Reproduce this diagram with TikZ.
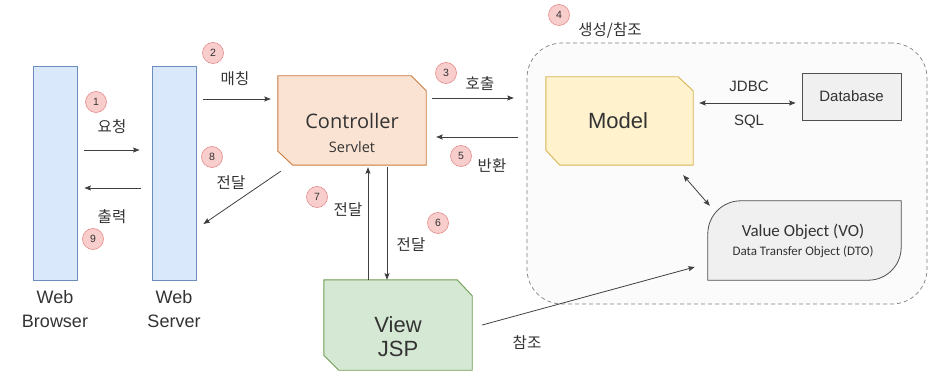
\documentclass[tikz,border=0pt]{standalone}
\usepackage{fontspec}
\setmainfont{Liberation Sans}
\newfontfamily\krfont{Noto Sans CJK KR}
\newfontfamily\vofont{Carlito}
\newfontfamily\osfont{Open Sans}
\usetikzlibrary{arrows.meta}
\definecolor{txt}{HTML}{333333}
\definecolor{arrcol}{HTML}{404040}
\definecolor{barfill}{HTML}{DAE8FC}
\definecolor{barline}{HTML}{6C8EBF}
\definecolor{numfill}{HTML}{F8CECC}
\definecolor{numline}{HTML}{E58A8A}
\definecolor{ctrlfill}{HTML}{FBE3D4}
\definecolor{ctrlline}{HTML}{CB7A3E}
\definecolor{jspfill}{HTML}{D5E8D4}
\definecolor{jspline}{HTML}{6E9E52}
\definecolor{modfill}{HTML}{FFF2CC}
\definecolor{modline}{HTML}{D6B656}
\definecolor{grayfill}{HTML}{F0F0F0}
\definecolor{grayline}{HTML}{505050}
\definecolor{contfill}{HTML}{FBFBFB}
\definecolor{contline}{HTML}{808080}
\begin{document}
\begin{tikzpicture}[x=1pt,y=-1pt,
  bar/.style={draw=barline, fill=barfill, line width=0.8pt, minimum width=44pt, minimum height=214pt, inner sep=0pt},
  num/.style={circle, draw=numline, fill=numfill, line width=0.6pt, minimum size=21pt, inner sep=0pt, text=txt, font=\fontsize{10.5}{12}\selectfont},
  lbl/.style={inner sep=0pt, text=txt, font=\krfont\fontsize{15.5}{17}\selectfont},
  word/.style={inner sep=0pt, text=txt},
  holder/.style={inner sep=0pt, draw=none},
  arr/.style={draw=arrcol, line width=0.8pt, -{Stealth[length=6.5pt,width=5pt,inset=1pt]}},
  darr/.style={draw=arrcol, line width=0.8pt, {Stealth[length=6.5pt,width=5pt,inset=1pt]}-{Stealth[length=6.5pt,width=5pt,inset=1pt]}}
]
\useasboundingbox (0,0) rectangle (931,374);

% container
\node[draw=contline, fill=contfill, dash pattern=on 4pt off 3pt, line width=0.7pt, rounded corners=35pt,
      minimum width=400pt, minimum height=261pt, inner sep=0pt] (mvc) at (727,173.5) {};

% web bars
\node[bar] (browser) at (55,173) {};
\node[bar] (server) at (174,173) {};
\node[word, align=center, font=\fontsize{18}{24}\selectfont] (browsertxt) at (55,309) {Web\\Browser};
\node[word, align=center, font=\fontsize{18}{24}\selectfont] (servertxt) at (174,309) {Web\\Server};

% controller
\node[holder, minimum width=148pt, minimum height=89pt] (ctrl) at (352,120.5) {};
\path[fill=ctrlfill, draw=ctrlline, line width=0.9pt]
  (ctrl.north west) -- ([xshift=-15pt]ctrl.north east) -- ([yshift=-15pt]ctrl.north east)
  -- (ctrl.south east) -- ([xshift=15pt]ctrl.south west) -- ([yshift=14pt]ctrl.south west) -- cycle;
\node[word, font=\osfont\fontsize{20}{24}\selectfont] (ctrltxt) at (352,121) {Controller};
\node[word, font=\osfont\fontsize{14.5}{18}\selectfont] (servlettxt) at (352,147) {Servlet};

% view
\node[holder, minimum width=148pt, minimum height=90pt] (jsp) at (398,325) {};
\path[fill=jspfill, draw=jspline, line width=0.9pt]
  (jsp.north west) -- ([xshift=-15pt]jsp.north east) -- ([yshift=-16pt]jsp.north east)
  -- (jsp.south east) -- ([xshift=15pt]jsp.south west) -- ([yshift=15pt]jsp.south west) -- cycle;
\node[word, align=center, font=\fontsize{22}{24}\selectfont] (jsptxt) at (398,337) {View\\JSP};

% model
\node[holder, minimum width=147pt, minimum height=88pt] (model) at (619.5,121) {};
\path[fill=modfill, draw=modline, line width=0.9pt]
  (model.north west) -- ([xshift=-15pt]model.north east) -- ([yshift=-14pt]model.north east)
  -- (model.south east) -- ([xshift=14pt]model.south west) -- ([yshift=15pt]model.south west) -- cycle;
\node[word, font=\fontsize{22}{24}\selectfont] (modeltxt) at (618,121) {Model};

% database
\node[draw=grayline, fill=grayfill, line width=0.8pt, minimum width=99pt, minimum height=47pt, inner sep=0pt,
      text=txt, font=\fontsize{15}{18}\selectfont] (db) at (851.5,96.5) {Database};

% value object
\node[holder, minimum width=193pt, minimum height=79pt] (vo) at (804.5,240.5) {};
\path[fill=grayfill, draw=grayline, line width=0.8pt]
  (vo.south west) -- ([yshift=-33pt]vo.north west) to[out=90,in=180] ([xshift=33pt]vo.north west)
  -- (vo.north east) -- ([yshift=33pt]vo.south east) to[out=-90,in=0] ([xshift=-33pt]vo.south east) -- cycle;
\node[word, font=\vofont\fontsize{17}{20}\selectfont] (votxt) at (803,232) {Value Object (VO)};
\node[word, font=\vofont\fontsize{13}{16}\selectfont] (dtotxt) at (803,252) {Data Transfer Object (DTO)};

% number badges
\node[num] (n1) at (96,102) {1};
\node[num] (n2) at (213,53) {2};
\node[num] (n3) at (446,73) {3};
\node[num] (n4) at (559,15) {4};
\node[num] (n5) at (461,156) {5};
\node[num] (n6) at (438,223) {6};
\node[num] (n7) at (317,197) {7};
\node[num] (n8) at (212,157) {8};
\node[num] (n9) at (93,239) {9};

% labels
\node[lbl] (l1) at (112,127) {요청};
\node[lbl] (l9) at (112,217) {출력};
\node[lbl] (l2) at (235,79) {매칭};
\node[lbl] (l8) at (231,183) {전달};
\node[lbl] (l3) at (480,84) {호출};
\node[lbl] (l5) at (492,166) {반환};
\node[lbl] (l7) at (348,210) {전달};
\node[lbl] (l6) at (411,245) {전달};
\node[lbl] (lref) at (527,343) {참조};
\node[lbl] (l4) at (610,30) {생성/참조};
\node[word, font=\fontsize{15}{18}\selectfont] (jdbc) at (749,86) {JDBC};
\node[word, font=\fontsize{15}{18}\selectfont] (sql) at (749,122) {SQL};

% connectors
\draw[arr] ([xshift=7pt,yshift=23pt]browser.east) -- ([xshift=-12pt,yshift=23pt]server.west);
\draw[arr] ([xshift=-11pt,yshift=-15pt]server.west) -- ([xshift=7pt,yshift=-15pt]browser.east);
\draw[arr] ([xshift=7pt,yshift=74pt]server.east) -- ([xshift=-7pt,yshift=21.5pt]ctrl.west);
\draw[arr] ([xshift=3pt,yshift=-6pt]ctrl.south west) -- ([xshift=7pt,yshift=-51pt]server.east);
\draw[arr] ([xshift=6pt,yshift=22.5pt]ctrl.east) -- ([xshift=-32pt,yshift=23pt]model.west);
\draw[arr] ([xshift=-28pt,yshift=-16pt]model.west) -- ([xshift=10pt,yshift=-16.5pt]ctrl.east);
\draw[arr] ([xshift=-30pt]jsp.north) -- ([xshift=16pt,yshift=-2pt]ctrl.south);
\draw[arr] ([xshift=35pt,yshift=-2pt]ctrl.south) -- ([xshift=-11pt]jsp.north);
\draw[arr] ([xshift=10pt]jsp.east) -- ([xshift=-13pt,yshift=-26.5pt]vo.west);
\draw[darr] ([xshift=6pt,yshift=18pt]model.east) -- ([xshift=-6pt,yshift=-6.5pt]db.west);
\draw[darr] ([xshift=-10pt,yshift=-10pt]model.south east) -- ([xshift=2pt,yshift=-5pt]vo.north west);
\end{tikzpicture}
\end{document}
